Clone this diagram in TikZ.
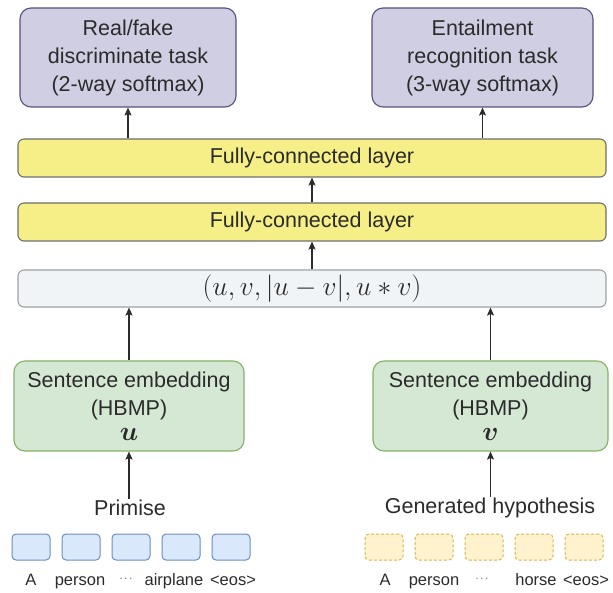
\RequirePackage{fix-cm}
\documentclass[tikz,border=0pt]{standalone}
\usepackage[no-math]{fontspec}
\setmainfont{Liberation Sans}
\usepackage{bm}
\usetikzlibrary{arrows.meta}

\definecolor{taskfill}{HTML}{D0CEE2}
\definecolor{taskline}{HTML}{56517E}
\definecolor{fcfill}{HTML}{F6EF88}
\definecolor{fcline}{HTML}{6E6E6E}
\definecolor{featfill}{HTML}{F1F4F7}
\definecolor{featline}{HTML}{A0A0A0}
\definecolor{embfill}{HTML}{D5E8D4}
\definecolor{embline}{HTML}{82B366}
\definecolor{tokfill}{HTML}{DAE8FC}
\definecolor{tokline}{HTML}{6C8EBF}
\definecolor{genfill}{HTML}{FFF2CC}
\definecolor{genline}{HTML}{D6B656}
\definecolor{ink}{HTML}{2B2B2B}

\tikzset{
  box/.style={draw, line width=1.1pt, inner sep=0pt, align=center, text=ink,
    font=\fontsize{21.5}{28}\selectfont},
  taskbox/.style={box, fill=taskfill, draw=taskline, rounded corners=11pt,
    minimum width=216pt, minimum height=99pt},
  fcbox/.style={box, fill=fcfill, draw=fcline, rounded corners=6pt,
    minimum width=588pt, minimum height=38pt},
  featbox/.style={box, fill=featfill, draw=featline, rounded corners=6pt,
    minimum width=588pt, minimum height=37pt, font=\fontsize{27.5}{30}\selectfont},
  embbox/.style={box, fill=embfill, draw=embline, rounded corners=11pt,
    minimum height=90pt},
  tok/.style={draw=tokline, fill=tokfill, line width=1pt, rounded corners=4pt,
    minimum width=38pt, minimum height=26pt, inner sep=0pt},
  gentok/.style={draw=genline, fill=genfill, line width=1pt, dashed,
    dash pattern=on 3pt off 2pt, rounded corners=4pt,
    minimum width=38pt, minimum height=26pt, inner sep=0pt},
  inlabel/.style={text=ink, inner sep=1pt, font=\fontsize{21.5}{26}\selectfont},
  word/.style={text=ink, inner sep=0pt, anchor=base, font=\fontsize{16.5}{18}\selectfont},
  dots/.style={text=ink, inner sep=0pt, font=\fontsize{11}{12}\selectfont},
  conn/.style={draw=ink, line width=1.1pt,
    -{Stealth[length=8pt, width=7pt, inset=1.5pt]}},
}

\begin{document}
\begin{tikzpicture}[x=1pt, y=-1pt]
\useasboundingbox (0,0) rectangle (613,593);

% output heads
\node[taskbox] (disc) at (128,57.5) {Real/fake\\discriminate task\\(2-way softmax)};
\node[taskbox, minimum width=221pt] (ent) at (482.5,57.5) {Entailment\\recognition task\\(3-way softmax)};

% shared layers
\node[fcbox] (fc1) at (312,158) {Fully-connected layer};
\node[fcbox] (fc2) at (312,222) {Fully-connected layer};
\node[featbox] (feat) at (312,288.5) {$(u, v, |u-v|, u*v)$};

% sentence encoders
\node[embbox, minimum width=230pt] (embL) at (129,406)
  {Sentence embedding\\(HBMP)\\[-3pt]{\fontsize{27}{27}\selectfont$\bm{u}$}};
\node[embbox, minimum width=235pt] (embR) at (490.5,406)
  {Sentence embedding\\(HBMP)\\[-3pt]{\fontsize{27}{27}\selectfont$\bm{v}$}};

% inputs
\node[inlabel] (prem) at (130,508) {Primise};
\node[inlabel] (hyp) at (490,508) {Generated hypothesis};

% premise tokens
\foreach \i/\x in {1/31,2/81,3/131,4/181,5/231}
  \node[tok] (p\i) at (\x,547) {};
\node[word] (pw1) at (31,585) {A};
\node[word] (pw2) at (80,585) {person};
\node[dots] (pw3) at (126,579) {$\cdots$};
\node[word] (pw4) at (174,585) {airplane};
\node[word] (pw5) at (233,585) {<eos>};

% generated hypothesis tokens
\foreach \i/\x in {1/384,2/434,3/484,4/534,5/584}
  \node[gentok] (h\i) at (\x,547) {};
\node[word] (hw1) at (385,585) {A};
\node[word] (hw2) at (434,585) {person};
\node[dots] (hw3) at (482,579) {$\cdots$};
\node[word] (hw4) at (536,585) {horse};
\node[word] (hw5) at (586,585) {<eos>};

% connectors
\draw[conn] (disc.south |- fc1.north) -- (disc.south);
\draw[conn] (ent.south |- fc1.north) -- (ent.south);
\draw[conn] (fc2.north) -- (fc1.south);
\draw[conn] (feat.north) -- (fc2.south);
\draw[conn] (embL.north) -- (embL.north |- feat.south);
\draw[conn] (embR.north) -- (embR.north |- feat.south);
\draw[conn] (embL.south |- prem.north) -- (embL.south);
\draw[conn] (embR.south |- hyp.north) -- (embR.south);
\end{tikzpicture}
\end{document}
